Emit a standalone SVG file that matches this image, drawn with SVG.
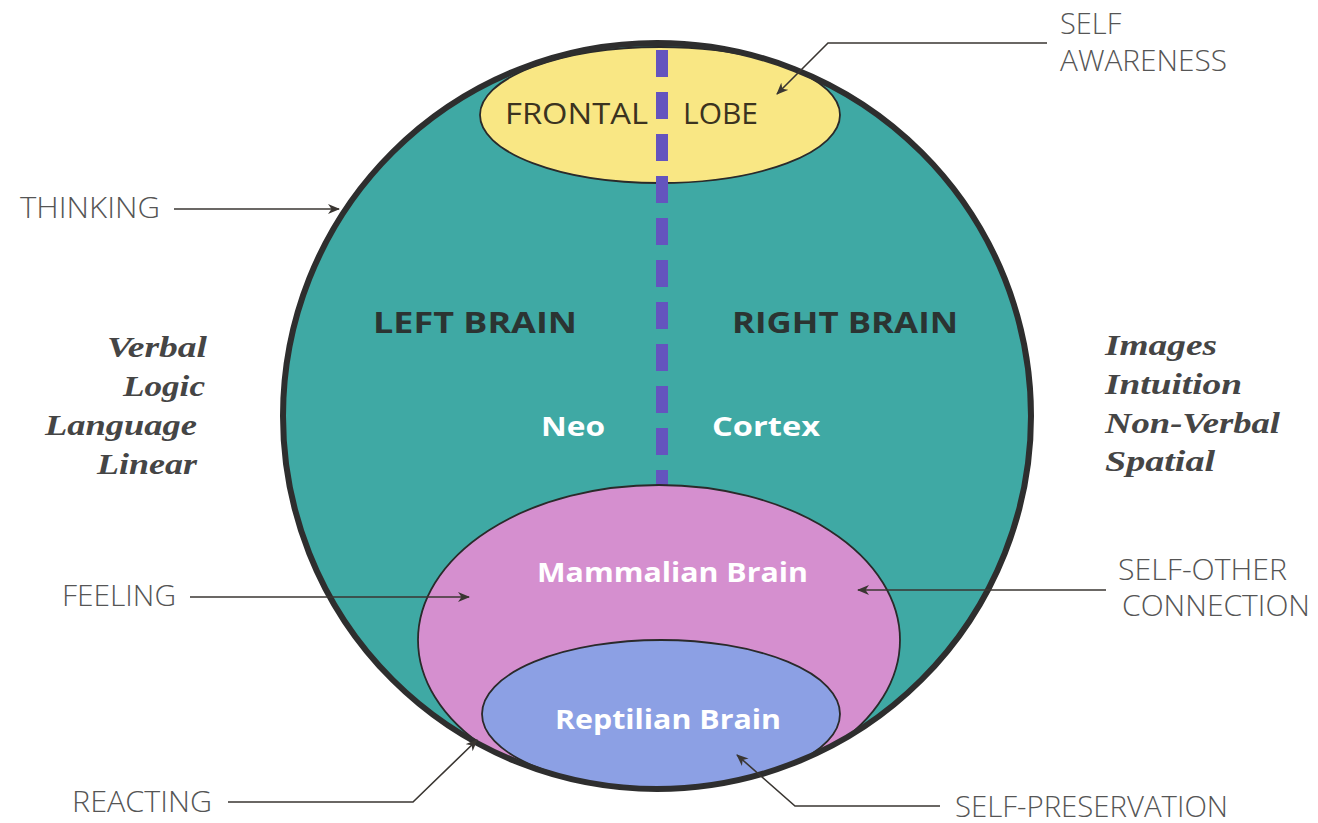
<svg xmlns="http://www.w3.org/2000/svg" width="1318" height="823" viewBox="0 0 1318 823">
  <style>
    .lbl { font-family: "Open Sans", "Liberation Sans", sans-serif; font-size: 29px; font-weight: 300; fill: #555555; }
    .ital { font-family: "Liberation Serif", "DejaVu Serif", serif; font-size: 29px; font-weight: bold; font-style: italic; fill: #454545; }
    .hemi { font-family: "Open Sans", "Liberation Sans", sans-serif; font-size: 29px; font-weight: 700; fill: #2b3432; }
    .white { font-family: "Open Sans", "Liberation Sans", sans-serif; font-size: 26px; font-weight: 700; fill: #ffffff; }
    .lobe { font-family: "Open Sans", "Liberation Sans", sans-serif; font-size: 30px; font-weight: 400; fill: #3b3320; }
    .conn { fill: none; stroke: #3a3632; stroke-width: 1.6; }
    .inner { stroke: #2a2a2a; stroke-width: 1.8; }
  </style>
  <defs>
    <clipPath id="circ">
      <ellipse cx="657" cy="416" rx="374" ry="373"/>
    </clipPath>
    <marker id="arr" viewBox="0 0 12 10" refX="11" refY="5" markerWidth="12" markerHeight="10" markerUnits="userSpaceOnUse" orient="auto">
      <path d="M0,0 L12,5 L0,10 L3.5,5 z" fill="#3a3632"/>
    </marker>
  </defs>
  <rect width="1318" height="823" fill="#ffffff"/>

  <g id="brain">
    <ellipse cx="657" cy="416" rx="374" ry="373" fill="#3fa9a4"/>
    <g clip-path="url(#circ)">
      <g id="frontal-lobe">
        <ellipse class="inner" cx="660" cy="115" rx="180" ry="68" fill="#f9e784"/>
      </g>
      <g id="divider">
        <line x1="662" y1="50" x2="662" y2="500" stroke="#6454be" stroke-width="12" stroke-dasharray="27 15"/>
      </g>
      <g id="mammalian">
        <ellipse class="inner" cx="659" cy="640" rx="241" ry="155" fill="#d58fcf"/>
      </g>
      <g id="reptilian">
        <ellipse class="inner" cx="661" cy="714" rx="179" ry="74" fill="#8ca0e4"/>
      </g>
    </g>
    <ellipse cx="657" cy="416" rx="374" ry="373" fill="none" stroke="#2e2e2e" stroke-width="6"/>
  </g>

  <g id="inner-labels">
    <text class="lobe" x="505" y="124" textLength="143" lengthAdjust="spacingAndGlyphs">FRONTAL</text>
    <text class="lobe" x="683" y="124" textLength="75" lengthAdjust="spacingAndGlyphs">LOBE</text>
    <text class="hemi" x="373" y="333" textLength="204" lengthAdjust="spacingAndGlyphs">LEFT BRAIN</text>
    <text class="hemi" x="732" y="333" textLength="226" lengthAdjust="spacingAndGlyphs">RIGHT BRAIN</text>
    <text class="white" x="541" y="436" textLength="64" lengthAdjust="spacingAndGlyphs">Neo</text>
    <text class="white" x="712" y="436" textLength="108" lengthAdjust="spacingAndGlyphs">Cortex</text>
    <text class="white" x="537" y="582" textLength="271" lengthAdjust="spacingAndGlyphs">Mammalian Brain</text>
    <text class="white" x="555" y="729" textLength="226" lengthAdjust="spacingAndGlyphs">Reptilian Brain</text>
  </g>

  <g id="left-list">
    <text class="ital" x="107" y="357" textLength="100" lengthAdjust="spacingAndGlyphs">Verbal</text>
    <text class="ital" x="123" y="396" textLength="82" lengthAdjust="spacingAndGlyphs">Logic</text>
    <text class="ital" x="45" y="435" textLength="152" lengthAdjust="spacingAndGlyphs">Language</text>
    <text class="ital" x="97" y="474" textLength="100" lengthAdjust="spacingAndGlyphs">Linear</text>
  </g>
  <g id="right-list">
    <text class="ital" x="1105" y="355" textLength="112" lengthAdjust="spacingAndGlyphs">Images</text>
    <text class="ital" x="1105" y="394" textLength="137" lengthAdjust="spacingAndGlyphs">Intuition</text>
    <text class="ital" x="1105" y="433" textLength="175" lengthAdjust="spacingAndGlyphs">Non-Verbal</text>
    <text class="ital" x="1105" y="471" textLength="110" lengthAdjust="spacingAndGlyphs">Spatial</text>
  </g>

  <g id="label-self-awareness">
    <text class="lbl" x="1060" y="34">SELF</text>
    <text class="lbl" x="1060" y="71" textLength="167" lengthAdjust="spacingAndGlyphs">AWARENESS</text>
  </g>
  <g id="label-thinking">
    <text class="lbl" x="20" y="218" textLength="140" lengthAdjust="spacingAndGlyphs">THINKING</text>
  </g>
  <g id="label-feeling">
    <text class="lbl" x="62" y="606" textLength="114" lengthAdjust="spacingAndGlyphs">FEELING</text>
  </g>
  <g id="label-self-other">
    <text class="lbl" x="1118" y="580" textLength="169" lengthAdjust="spacingAndGlyphs">SELF-OTHER</text>
    <text class="lbl" x="1122" y="616" textLength="188" lengthAdjust="spacingAndGlyphs">CONNECTION</text>
  </g>
  <g id="label-reacting">
    <text class="lbl" x="72" y="812" textLength="140" lengthAdjust="spacingAndGlyphs">REACTING</text>
  </g>
  <g id="label-self-preservation">
    <text class="lbl" x="955" y="817" textLength="273" lengthAdjust="spacingAndGlyphs">SELF-PRESERVATION</text>
  </g>

  <g id="connectors">
    <polyline class="conn" points="1047,43 828,43 777,94" marker-end="url(#arr)"/>
    <line class="conn" x1="174" y1="209" x2="339" y2="209" marker-end="url(#arr)"/>
    <line class="conn" x1="190" y1="597" x2="469" y2="597" marker-end="url(#arr)"/>
    <line class="conn" x1="1106" y1="590" x2="858" y2="590" marker-end="url(#arr)"/>
    <polyline class="conn" points="228,802 413,802 477,740" marker-end="url(#arr)"/>
    <polyline class="conn" points="940,806 795,806 737,755" marker-end="url(#arr)"/>
  </g>
</svg>
